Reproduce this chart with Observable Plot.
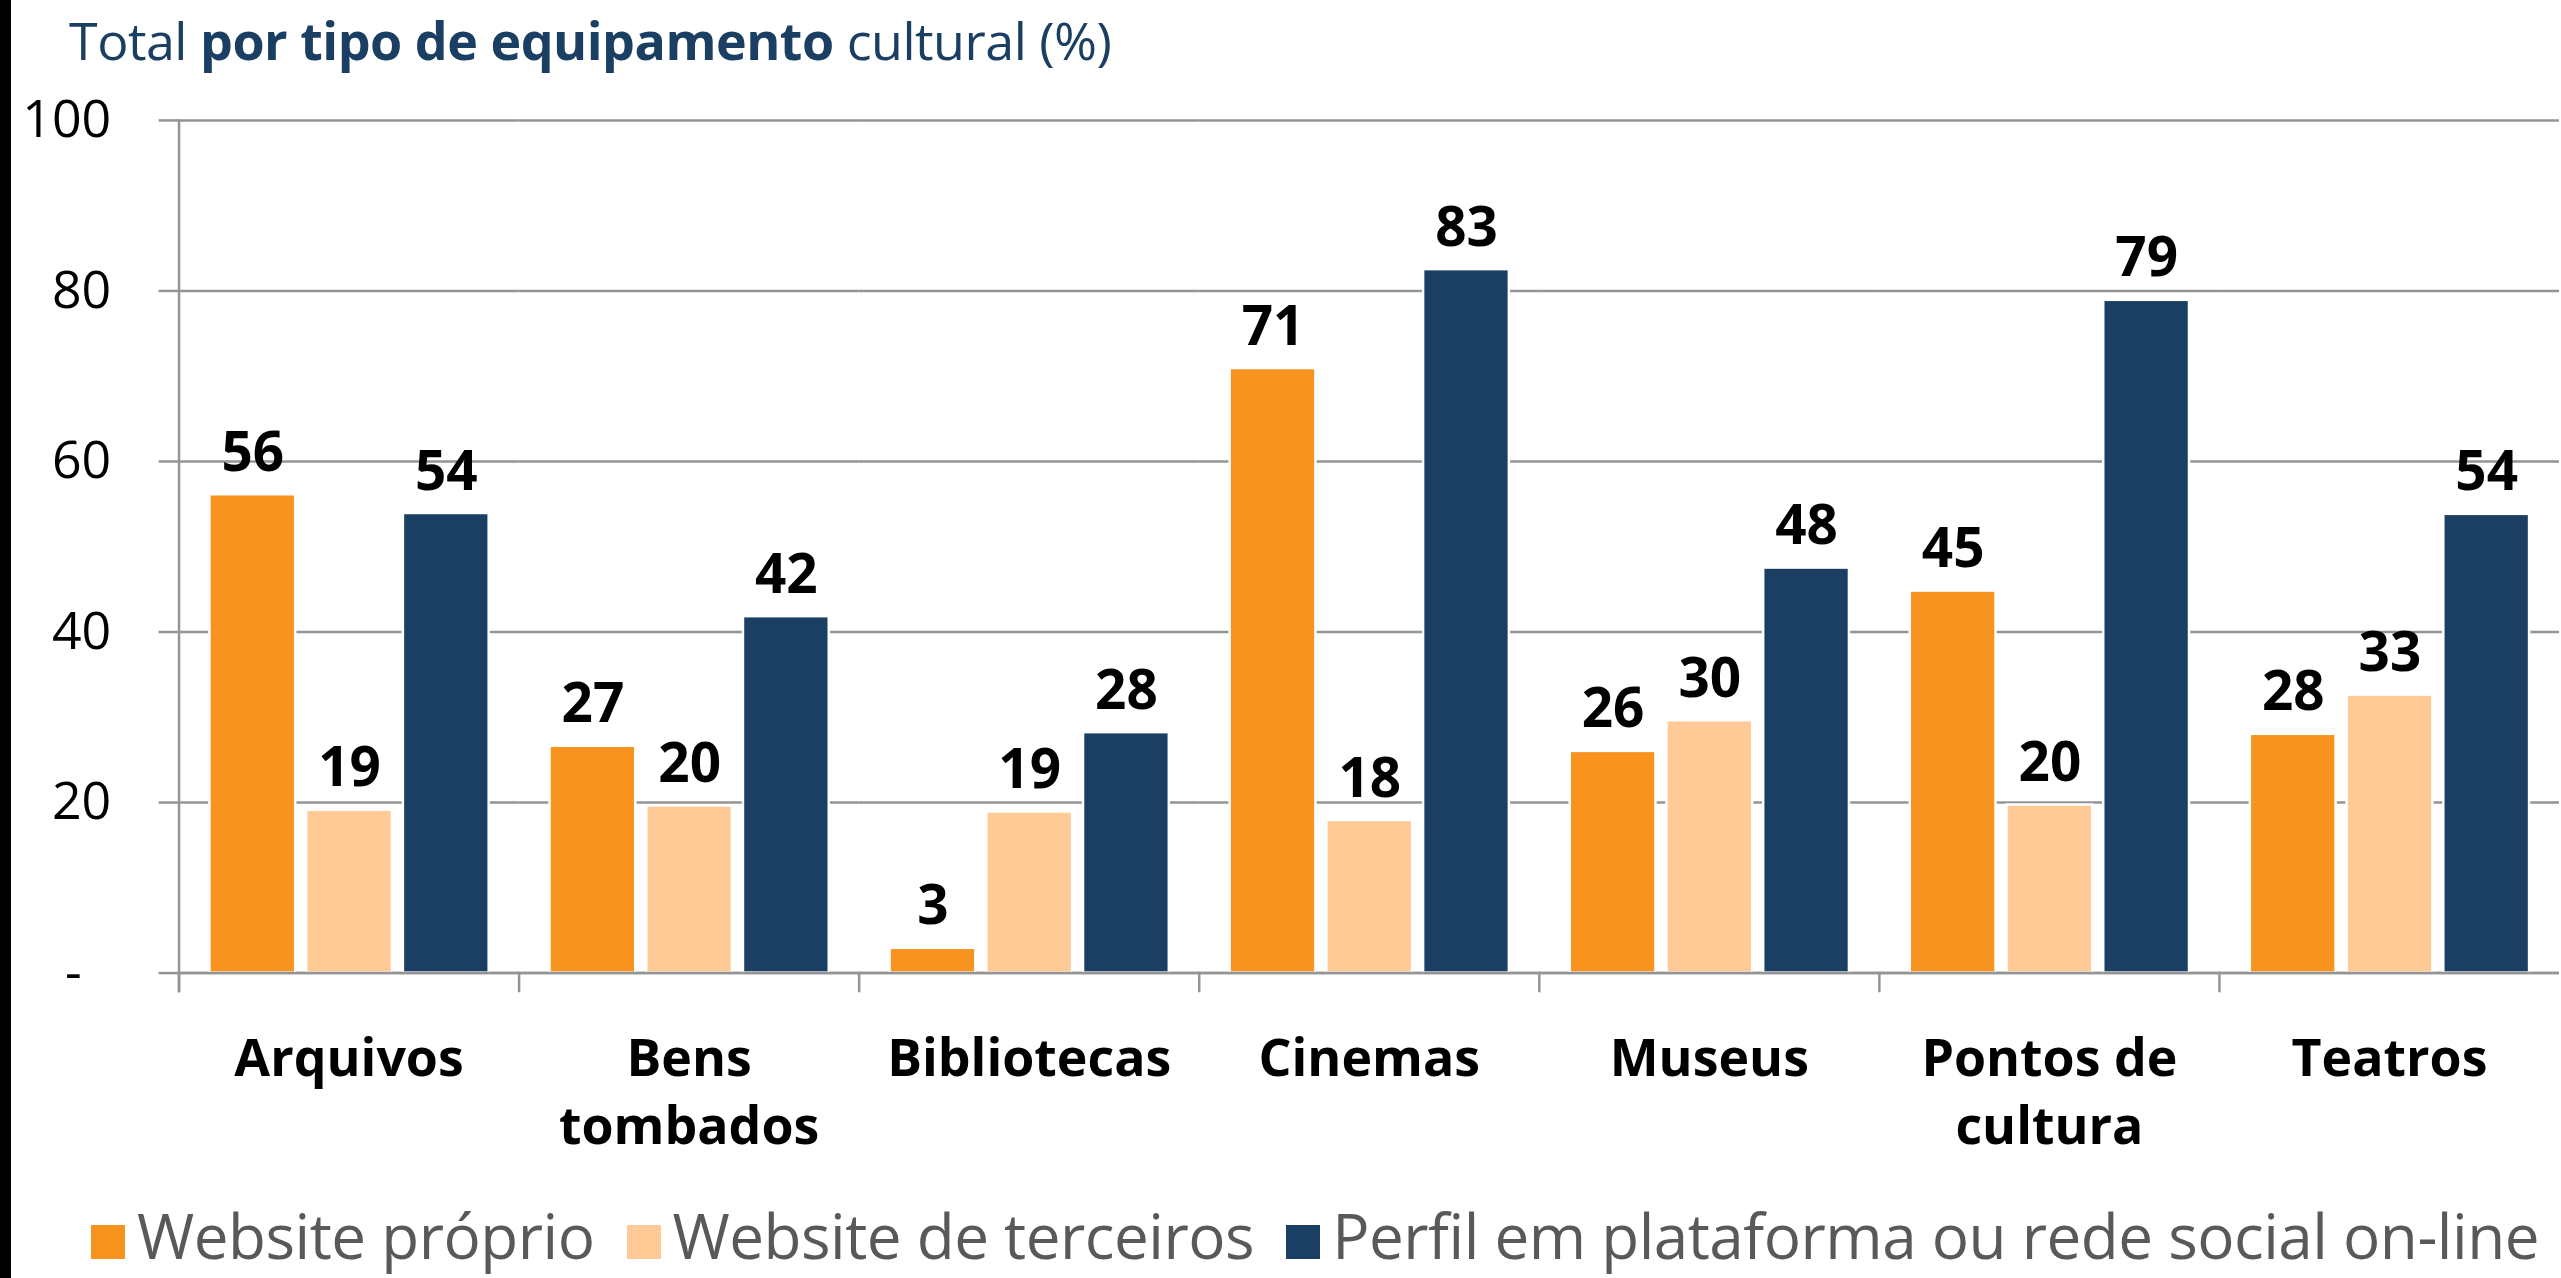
<!DOCTYPE html>
<html>
<head>
<meta charset="utf-8">
<script src="https://cdn.jsdelivr.net/npm/d3@7"></script>
<script src="https://cdn.jsdelivr.net/npm/@observablehq/plot@0.6"></script>
<style>
  html, body { margin: 0; padding: 0; background: #fff; width: 2561px; height: 1278px; overflow: hidden; }
  #page { position: relative; width: 2561px; height: 1278px; font-family: "Open Sans", sans-serif; overflow: hidden; }
  #edge { position: absolute; left: 0; top: 0; width: 11px; height: 1278px; background: #000; z-index: 2; }
  #title { position: absolute; left: 69px; top: 14px; font-size: 52px; line-height: 1; color: #1b3f62; white-space: nowrap; letter-spacing: -0.5px; }
  #title b { font-weight: 700; }
  #chart { position: absolute; left: 0; top: 90px; }
  #legend { position: absolute; left: 91px; top: 1204px; display: flex; align-items: flex-end; white-space: nowrap;
            font-size: 62px; line-height: 1; color: #595959; letter-spacing: -0.5px; }
  #legend .sw { width: 34px; height: 34px; margin-right: 12px; margin-bottom: 7px; flex: none; }
  #legend .item { display: flex; align-items: flex-end; margin-right: 32px; }
</style>
</head>
<body>
<div id="page">
  <div id="edge"></div>
  <div id="title">Total <b>por tipo de equipamento</b> cultural (%)</div>
  <div id="chart"></div>
  <div id="legend"></div>
</div>
<script>
// ---- data ----
const categories = ["Arquivos", "Bens tombados", "Bibliotecas", "Cinemas", "Museus", "Pontos de cultura", "Teatros"];
const categoryLabels = ["Arquivos", "Bens\ntombados", "Bibliotecas", "Cinemas", "Museus", "Pontos de\ncultura", "Teatros"];
const series = ["Website próprio", "Website de terceiros", "Perfil em plataforma ou rede social on-line"];
const websiteProprio   = [56.1, 26.6, 2.9, 70.9, 26.0, 44.8, 28.0];
const websiteTerceiros = [19.1, 19.6, 18.9, 17.9, 29.6, 19.7, 32.6];
const perfilRedeSocial = [53.9, 41.8, 28.2, 82.5, 47.5, 78.9, 53.8];
const yTicks = [0, 20, 40, 60, 80, 100];
const colors = ["#F7931E", "#FFCA96", "#1B3F62"];

const seriesValues = [websiteProprio, websiteTerceiros, perfilRedeSocial];
const data = [];
categories.forEach((cat, i) => {
  series.forEach((s, j) => data.push({cat, series: s, value: seriesValues[j][i]}));
});

// ---- layout ----
const W = 2568, H = 1080, mt = 30, mb = 195, ml = 176, mr = 0;
const plotH = H - mt - mb;
const grid = "#949494";

const chart = Plot.plot({
  width: W, height: H,
  marginTop: mt, marginBottom: mb, marginLeft: ml, marginRight: mr,
  style: {fontFamily: "'Open Sans', sans-serif", background: "transparent", overflow: "visible", color: "#000"},
  fx: {domain: categories, padding: 0, label: null},
  x: {domain: series, paddingInner: 0.118, paddingOuter: 0.315, axis: null},
  y: {domain: [0, 100]},
  color: {domain: series, range: colors},
  marks: [
    Plot.gridY(yTicks, {stroke: grid, strokeOpacity: 1, strokeWidth: 2.5}),
    Plot.axisY(yTicks, {
      tickSize: 20, tickPadding: 48, fontSize: 52, stroke: grid, strokeWidth: 2.5, fill: "#000", label: null,
      tickFormat: d => d === 0 ? "-\u2007" : String(d)
    }),
    Plot.barY(data, {fx: "cat", x: "series", y: "value", fill: "series", stroke: "#fff", strokeWidth: 2.5}),
    Plot.ruleY([0], {stroke: grid, strokeWidth: 2.5}),
    Plot.frame({anchor: "left", stroke: grid, strokeWidth: 2.5, insetTop: plotH, insetBottom: -18}),
    Plot.frame({anchor: "left", stroke: grid, strokeWidth: 2.5, insetBottom: -18, fx: () => categories[0]}),
    Plot.text(data, {
      fx: "cat", x: "series", y: "value", text: d => String(Math.round(d.value)),
      lineAnchor: "bottom", dy: -24, fontSize: 55, fontWeight: "bold", fill: "#000"
    }),
    Plot.axisFx({
      anchor: "bottom", tickSize: 0, tickPadding: 55, fontSize: 52, fontWeight: "bold", lineHeight: 1.31,
      fill: "#000", label: null,
      tickFormat: c => categoryLabels[categories.indexOf(c)]
    })
  ]
});
document.getElementById("chart").appendChild(chart);

// ---- legend ----
const legend = document.getElementById("legend");
series.forEach((s, j) => {
  const item = document.createElement("div");
  item.className = "item";
  const sw = document.createElement("div");
  sw.className = "sw";
  sw.style.background = colors[j];
  const label = document.createElement("span");
  label.textContent = s;
  item.appendChild(sw);
  item.appendChild(label);
  legend.appendChild(item);
});
</script>
</body>
</html>
